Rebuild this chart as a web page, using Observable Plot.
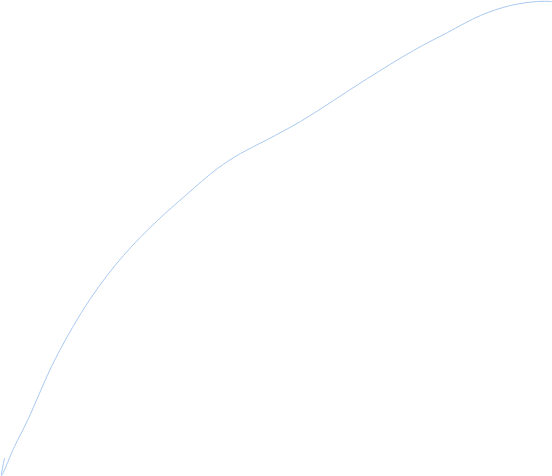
<!DOCTYPE html>
<html>
<head>
<meta charset="utf-8">
<script src="https://cdn.jsdelivr.net/npm/d3@7"></script>
<script src="https://cdn.jsdelivr.net/npm/@observablehq/plot@0.6"></script>
<style>
  html, body { margin: 0; padding: 0; background: #fff; }
</style>
</head>
<body>
<div id="chart"></div>
<script>
// Series (x position along the series, value)
const xValues = [4, 1, 14, 27, 55, 90, 123, 157, 185, 217, 240, 267, 300, 333, 367, 413, 447, 480, 510, 537, 551];
const yValues = [18, 1, 30, 56, 118, 178, 221, 256, 281, 308, 323, 337, 355, 376, 398, 426, 444, 461, 471, 475, 475];

const data = xValues.map((x, i) => ({x, y: yValues[i]}));

const chart = Plot.plot({
  width: 552,
  height: 476,
  margin: 0,
  x: {domain: [0, 552], axis: null},
  y: {domain: [0, 476], axis: null},
  marks: [
    Plot.line(data, {x: "x", y: "y", curve: "catmull-rom", stroke: "#aacaf0", strokeWidth: 1})
  ]
});
document.getElementById("chart").appendChild(chart);
</script>
</body>
</html>
